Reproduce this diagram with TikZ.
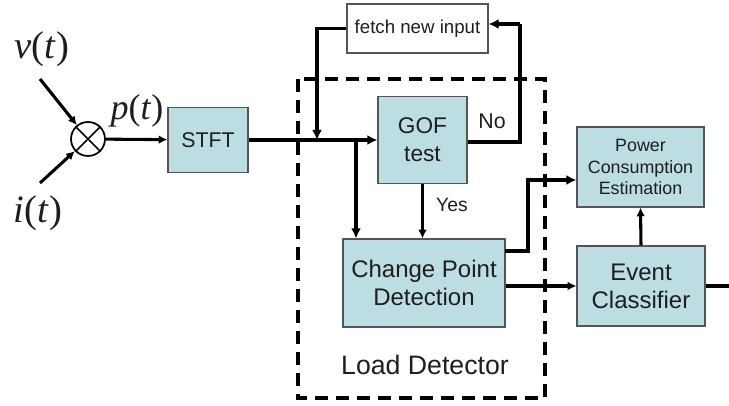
\documentclass[tikz,border=0pt]{standalone}
\usepackage{fontspec}
\setmainfont{Liberation Sans}
\newfontfamily\tnr{Liberation Serif}
\usetikzlibrary{arrows.meta}
\definecolor{boxfill}{RGB}{188,222,227}
\definecolor{boxline}{RGB}{85,85,85}
\definecolor{txt}{RGB}{30,30,30}
\begin{document}
\begin{tikzpicture}[x=0.75pt,y=-0.75pt,
  every node/.style={text=txt},
  blk/.style={draw=boxline, fill=boxfill, line width=0.9pt, align=center, inner sep=0pt},
  thk/.style={line width=3.1pt, -{Latex[length=7.5pt,width=7.5pt]}},
  thn/.style={line width=2.3pt, -{Latex[length=6.5pt,width=6.5pt]}},
  lbl/.style={font=\fontsize{14.5pt}{17pt}\selectfont},
  mathlbl/.style={font=\tnr\fontsize{29pt}{32pt}\selectfont, inner sep=0pt}
]
\useasboundingbox (0,0) rectangle (729,406);

% dashed load detector frame
\draw[line width=2.4pt, dash pattern=on 9.75pt off 6pt] (298,79) rectangle (545,398);

% nodes
\node[draw, line width=1.3pt, circle, minimum size=25.5pt, inner sep=0pt] (x) at (88,139) {};
\draw[line width=1.3pt] (x.45) -- (x.225) (x.135) -- (x.315);
\node[mathlbl] (v) at (42,49) {\textit{v}(\textit{t})};
\node[mathlbl] (i) at (38,213) {\textit{i}(\textit{t})};
\node[mathlbl, font=\tnr\fontsize{27pt}{30pt}\selectfont] (p) at (137,111) {\textit{p}(\textit{t})};
\coordinate (vs) at (40,79);
\coordinate (is) at (40,183);

\node[blk, minimum width=60pt, minimum height=48.75pt, font=\fontsize{16pt}{19pt}\selectfont] (stft) at (208,140) {STFT};
\node[blk, minimum width=66.75pt, minimum height=65.25pt, font=\fontsize{17pt}{21pt}\selectfont] (gof) at (422.5,140) {GOF\\test};
\node[draw=boxline, fill=white, line width=0.8pt, minimum width=105.75pt, minimum height=36.75pt, inner sep=0pt, font=\fontsize{14pt}{17pt}\selectfont] (fetch) at (417.5,28.5) {fetch new input};
\node[blk, minimum width=121.5pt, minimum height=66pt, font=\fontsize{18pt}{21pt}\selectfont] (cp) at (424,283) {Change Point\\Detection};
\node[blk, minimum width=95.25pt, minimum height=60pt, font=\fontsize{13.4pt}{16pt}\selectfont] (pce) at (640.5,167) {Power\\Consumption\\Estimation};
\node[blk, minimum width=96pt, minimum height=60pt, font=\fontsize{18pt}{21pt}\selectfont] (ec) at (641,286) {Event\\Classifier};

\node[lbl, font=\fontsize{16pt}{19pt}\selectfont] (no) at (492,121) {No};
\node[lbl] (yes) at (452,205) {Yes};
\node[font=\fontsize{20pt}{24pt}\selectfont] (ld) at (425,365) {Load Detector};

% junction coordinates
\coordinate (j1) at (317,140);
\coordinate (j2) at (356,140);
\coordinate (cr) at (520,24);
\coordinate (cpo) at (505,251);
\coordinate (cu) at (528,180);
\coordinate (out) at (745,286);

% connectors
\draw[thn] (vs) -- (x);
\draw[thn] (is) -- (x);
\draw[thn] (x) -- (stft);
\draw[thk] (stft.east) -- (gof.west);
\draw[thk, line width=2.6pt] (fetch.west) -| (j1);
\draw[thk, -] (gof.east) ++(0,2) -| (cr);
\draw[thk, line width=2.6pt] (cr) -- (fetch.east |- cr);
\draw[thk] (j2) -- (j2 |- cp.north);
\draw[thn] (gof.south) -- (cp.north -| gof.south);
\draw[thk] (cpo) -| (cu) -- (pce.west |- cu);
\draw[thn] (cp.east |- ec.west) -- (ec.west);
\draw[thn] (ec.north) -- (pce.south);
\draw[thn] (ec.east) -- (out);
\end{tikzpicture}
\end{document}
